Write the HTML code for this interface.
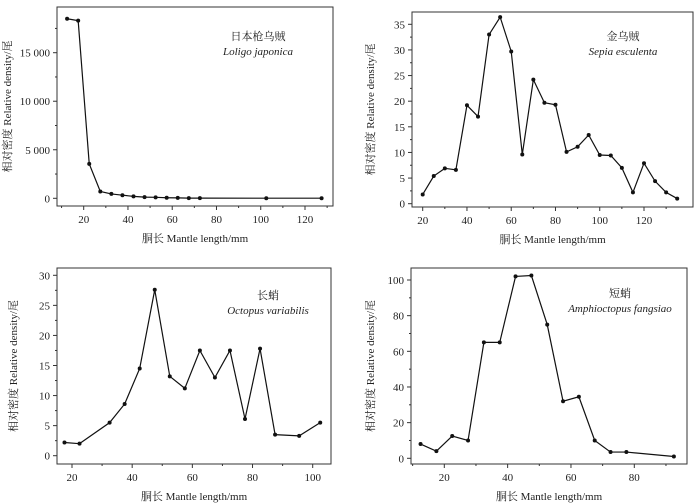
<!DOCTYPE html>
<html><head><meta charset="utf-8"><style>
body{margin:0;background:#fff}
svg{display:block}
text{font-family:"Liberation Serif","Noto Serif CJK SC",serif;fill:#222}
</style></head><body>
<svg id="c" width="700" height="504" viewBox="0 0 700 504"></svg>
<script>
const p1X=[12.5,17.5,22.5,27.5,32.5,37.5,42.5,47.5,52.5,57.5,62.5,67.5,72.5,102.5,127.5];
const p1Y=[18500,18300,3550,700,450,320,200,120,100,60,40,20,20,10,10];
const p1YTicks=[0,5000,10000,15000];
const p1YLabels=["0","5 000","10 000","15 000"];
const p1XTicks=[20,40,60,80,100,120];
const p2X=[20,25,30,35,40,45,50,55,60,65,70,75,80,85,90,95,100,105,110,115,120,125,130,135];
const p2Y=[1.8,5.4,6.9,6.6,19.2,17,33,36.4,29.7,9.6,24.2,19.7,19.3,10.1,11.1,13.4,9.5,9.4,7,2.2,7.9,4.4,2.2,1];
const p2YTicks=[0,5,10,15,20,25,30,35];
const p2XTicks=[20,40,60,80,100,120];
const p3X=[17.5,22.5,32.5,37.5,42.5,47.5,52.5,57.5,62.5,67.5,72.5,77.5,82.5,87.5,95.5,102.5];
const p3Y=[2.2,2,5.5,8.6,14.5,27.6,13.2,11.2,17.5,13,17.5,6.1,17.8,3.5,3.3,5.5];
const p3YTicks=[0,5,10,15,20,25,30];
const p3XTicks=[20,40,60,80,100];
const p4X=[12.5,17.5,22.5,27.5,32.5,37.5,42.5,47.5,52.5,57.5,62.5,67.5,72.5,77.5,92.5];
const p4Y=[8,4,12.5,10,65,65,102,102.5,75,32,34.5,10,3.5,3.5,1];
const p4YTicks=[0,20,40,60,80,100];
const p4XTicks=[20,40,60,80];

const NS="http://www.w3.org/2000/svg";
const svg=document.getElementById('c');
function mk(tag,attrs,parent,txt){const e=document.createElementNS(NS,tag);for(const k in attrs)e.setAttribute(k,attrs[k]);if(txt!==undefined)e.textContent=txt;(parent||svg).appendChild(e);return e;}

function panel(o){
  const g=mk('g',{});
  
  
  const sx=v=>o.x0px+(v-o.x0)*(o.x1px-o.x0px)/(o.x1-o.x0);
  const sy=v=>o.y0px+(v-o.y0)*(o.y1px-o.y0px)/(o.y1-o.y0);
  const box=mk('rect',{x:o.L,y:o.T,width:o.R-o.L,height:o.B-o.T,fill:'none',stroke:'#333','stroke-width':1},g);
  
  
  // y ticks
  const ystep=o.yt[1]-o.yt[0];
  o.yt.forEach((v,i)=>{
    const y=sy(v);
    mk('line',{x1:o.L-4,x2:o.L,y1:y,y2:y,stroke:'#333'},g);
    const t=mk('text',{x:o.L-7,y:y+4,'text-anchor':'end','font-size':11},g,o.yl?o.yl[i]:String(v));
    
    
    const m=sy(v+ystep/2);
    if(m>o.T) mk('line',{x1:o.L-2,x2:o.L,y1:m,y2:m,stroke:'#333'},g);
  });
  const m0=sy(o.yt[0]-ystep/2); if(m0<o.B) mk('line',{x1:o.L-2,x2:o.L,y1:m0,y2:m0,stroke:'#333'},g);
  const xstep=o.xt[1]-o.xt[0];
  o.xt.forEach(v=>{
    const x=sx(v);
    mk('line',{x1:x,x2:x,y1:o.B,y2:o.B+4,stroke:'#333'},g);
    const t=mk('text',{x:x,y:o.B+17,'text-anchor':'middle','font-size':11},g,String(v));
    
    
  });
  for(let v=o.xt[0]-xstep/2;v<o.xt[o.xt.length-1]+xstep;v+=xstep/2){
    const x=sx(v); if(x>o.L&&x<o.R&&o.xt.indexOf(v)<0) mk('line',{x1:x,x2:x,y1:o.B,y2:o.B+2,stroke:'#333'},g);
  }
  const pts=o.xs.map((v,i)=>sx(v)+','+sy(o.ys[i])).join(' ');
  const pl=mk('polyline',{points:pts,fill:'none',stroke:'#111','stroke-width':1.2},g);
  
  
  o.xs.forEach((v,i)=>{
    const c=mk('circle',{cx:sx(v),cy:sy(o.ys[i]),r:2,fill:'#111'},g);
    
    
  });
  const yl=mk('text',{transform:`translate(${o.ylx},${(o.T+o.B)/2}) rotate(-90)`,'text-anchor':'middle','font-size':11},g,'相对密度 Relative density/尾');
  
  
  const xl=mk('text',{x:(o.L+o.R)/2,y:o.B+36,'text-anchor':'middle','font-size':11},g,'胴长 Mantle length/mm');
  
  
  const a1=mk('text',{x:o.ax,y:o.ay,'text-anchor':'middle','font-size':11},g,o.cn);
  
  
  const a2=mk('text',{x:o.ax,y:o.ay+15,'text-anchor':'middle','font-size':11,'font-style':'italic'},g,o.la);
  
  
}
panel({name:'panel-loligo',L:57,R:333,T:7,B:206,x0:20,x1:120,x0px:83.7,x1px:305,y0:0,y1:15000,y0px:198.3,y1px:52.7,xs:p1X,ys:p1Y,yt:p1YTicks,yl:p1YLabels,xt:p1XTicks,ylx:11,ax:258,ay:40,cn:'日本枪乌贼',la:'Loligo japonica'});
panel({name:'panel-sepia',L:412,R:693,T:12,B:207,x0:20,x1:120,x0px:422.7,x1px:644,y0:0,y1:35,y0px:203.7,y1px:24.3,xs:p2X,ys:p2Y,yt:p2YTicks,xt:p2XTicks,ylx:374,ax:623,ay:40,cn:'金乌贼',la:'Sepia esculenta'});
panel({name:'panel-octopus',L:57,R:331,T:268,B:464,x0:20,x1:100,x0px:72,x1px:312.7,y0:0,y1:30,y0px:455.7,y1px:275.3,xs:p3X,ys:p3Y,yt:p3YTicks,xt:p3XTicks,ylx:17,ax:268,ay:299,cn:'长蛸',la:'Octopus variabilis'});
panel({name:'panel-amphioctopus',L:411,R:687,T:268,B:464,x0:20,x1:80,x0px:444.3,x1px:634.3,y0:0,y1:100,y0px:458.3,y1px:280,xs:p4X,ys:p4Y,yt:p4YTicks,xt:p4XTicks,ylx:374,ax:620,ay:297,cn:'短蛸',la:'Amphioctopus fangsiao'});
</script>
</body></html>
